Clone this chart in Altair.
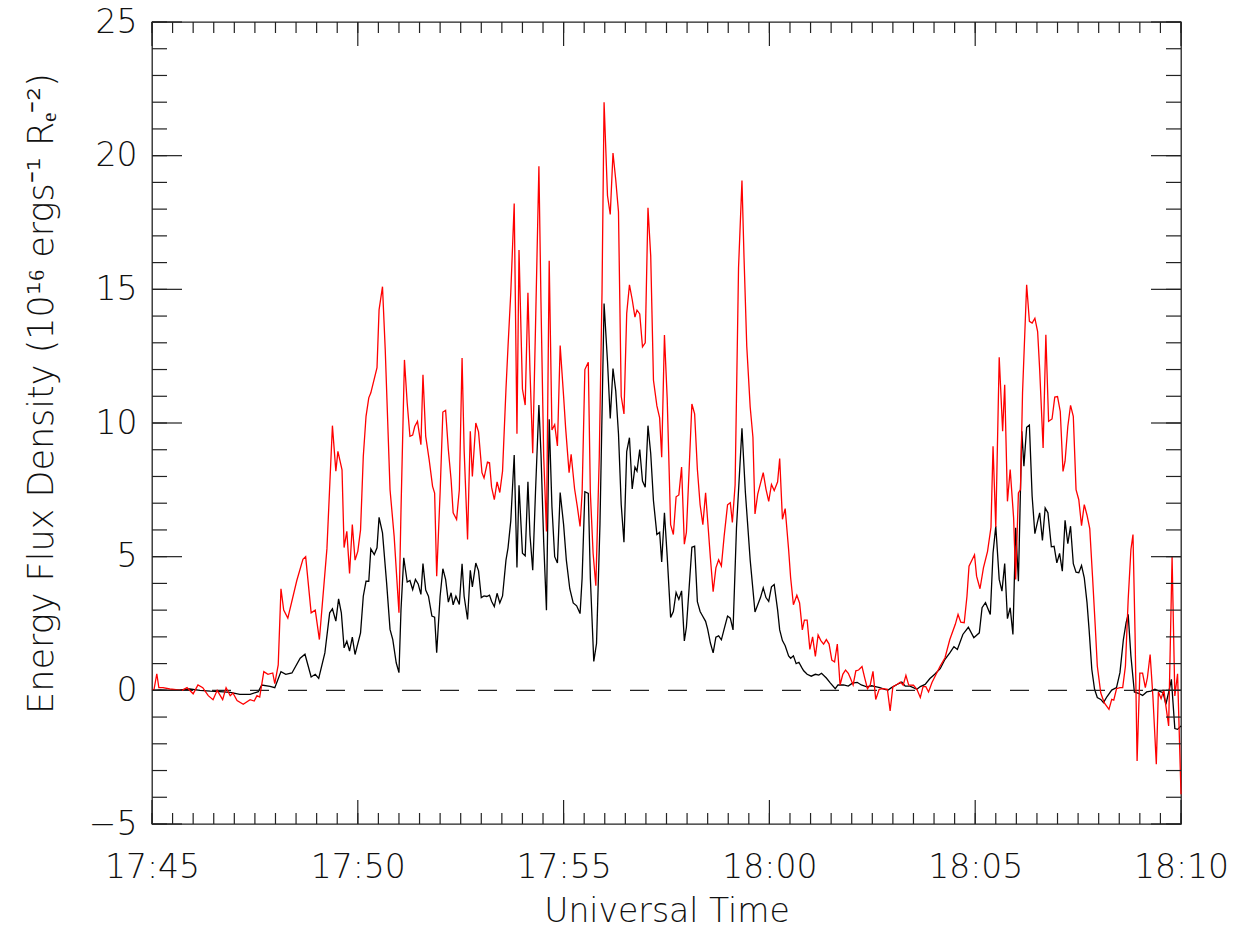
import altair as alt
import pandas as pd

# Seconds after 17:45:00 and energy flux density (10^16 ergs^-1 R_E^-2)
red_points = [(0,0.0),(3,0.04),(7,0.62),(10,0.1),(16,0.1),(26,0.05),(44,0.0),(51,0.1),(60,-0.13),(67,0.2),(74,0.1),(82,-0.2),(89,-0.35),(95,0.0),(103,-0.35),(108,0.1),(114,-0.2),(118,-0.1),(124,-0.38),(133,-0.52),(143,-0.35),(149,-0.4),(153,-0.2),(157,-0.25),(163,0.7),(169,0.6),(176,0.65),(179,0.25),(184,0.95),(188,3.8),(192,3.0),(198,2.7),(211,4.1),(220,4.9),(224,5.0),(232,2.9),(238,3.0),(244,1.9),(255,5.3),(263,9.9),(268,8.2),(271,8.94),(277,8.25),(280,5.34),(284,5.95),(288,4.37),(292,6.2),(296,4.87),(300,5.2),(304,6.0),(308,8.75),(312,10.25),(316,10.94),(319,11.13),(328,12.07),(331,14.23),(336,15.1),(340,12.74),(347,7.5),(353,5.76),(360,2.9),(363,6.76),(368,12.36),(372,10.75),(376,9.5),(380,9.55),(383,9.87),(387,10.06),(392,9.19),(395,11.8),(399,9.5),(404,8.63),(409,7.63),(412,7.38),(415,4.27),(420,7.4),(424,10.41),(428,10.47),(432,9.0),(436,7.88),(439,6.64),(444,6.39),(448,7.5),(452,12.43),(455,9.0),(460,5.64),(464,9.69),(467,8.0),(472,10.0),(476,9.67),(481,8.14),(484,7.94),(489,8.54),(492,8.51),(495,7.6),(499,7.13),(503,7.8),(507,7.4),(511,8.2),(516,11.27),(519,12.87),(523,14.87),(528,18.21),(532,9.6),(535,16.47),(540,11.27),(544,10.67),(548,14.87),(551,11.94),(555,8.87),(559,13.54),(564,19.6),(567,14.54),(571,8.74),(575,5.94),(579,16.07),(583,9.74),(587,9.94),(591,9.14),(595,12.9),(600,11.0),(603,9.8),(608,8.14),(611,8.83),(616,7.54),(620,6.87),(624,6.13),(627,7.4),(631,12.0),(636,12.27),(639,7.4),(643,5.13),(647,3.91),(652,8.74),(656,14.87),(659,22.0),(664,18.5),(668,17.8),(672,20.1),(676,19.1),(680,17.9),(684,11.0),(688,10.34),(692,14.1),(696,15.17),(700,14.62),(704,13.96),(707,14.22),(711,14.08),(715,12.85),(719,13.0),(723,18.05),(727,16.25),(731,11.6),(736,10.64),(740,10.19),(743,8.72),(747,13.29),(751,10.93),(756,6.2),(760,5.83),(764,7.24),(768,7.31),(772,8.35),(776,5.47),(779,5.91),(783,8.27),(787,10.71),(791,10.34),(795,8.27),(799,6.94),(803,6.2),(807,7.39),(810,6.35),(814,4.95),(818,3.69),(822,4.58),(826,4.88),(830,4.65),(834,5.76),(839,6.94),(843,7.02),(846,6.28),(850,7.68),(855,15.8),(860,19.07),(863,16.2),(867,12.87),(872,10.6),(876,9.47),(879,6.6),(883,7.34),(887,7.74),(891,8.14),(895,7.53),(899,7.07),(903,7.7),(907,7.47),(912,7.8),(915,8.67),(919,6.4),(923,6.8),(928,5.27),(931,4.2),(935,3.2),(940,3.56),(944,3.27),(948,2.26),(951,2.63),(955,2.63),(959,1.53),(963,2.0),(967,1.27),(971,2.07),(975,1.86),(979,1.73),(983,1.9),(987,1.73),(991,1.13),(995,1.06),(999,1.73),(1003,0.2),(1007,0.6),(1011,0.76),(1015,0.64),(1018,0.46),(1022,0.2),(1026,0.73),(1030,0.76),(1035,0.89),(1039,0.46),(1043,0.06),(1047,0.2),(1051,0.71),(1055,-0.34),(1060,0.04),(1066,0.06),(1072,0.04),(1076,-0.77),(1080,0.14),(1086,0.22),(1091,0.31),(1095,0.19),(1099,0.56),(1103,0.2),(1110,0.19),(1115,0.04),(1120,-0.27),(1124,0.14),(1128,0.14),(1132,-0.06),(1137,0.29),(1143,0.6),(1149,0.91),(1156,1.22),(1163,1.9),(1171,2.47),(1175,2.84),(1179,2.55),(1184,2.53),(1188,3.52),(1191,4.64),(1199,5.07),(1202,4.27),(1207,3.8),(1212,4.58),(1218,5.2),(1223,6.1),(1226,9.13),(1230,6.1),(1235,12.46),(1240,9.69),(1243,11.43),(1247,7.07),(1251,8.26),(1256,6.45),(1259,4.15),(1263,7.38),(1266,7.51),(1269,11.12),(1275,15.17),(1279,13.8),(1283,13.74),(1287,13.92),(1291,13.42),(1294,11.99),(1299,9.07),(1303,13.3),(1307,10.06),(1312,10.15),(1316,10.97),(1320,10.99),(1324,10.43),(1328,8.19),(1331,8.57),(1335,9.87),(1339,10.66),(1343,10.25),(1347,7.51),(1351,7.13),(1355,6.16),(1359,6.95),(1363,6.55),(1367,6.05),(1371,4.27),(1375,2.4),(1378,0.91),(1383,-0.09),(1388,-0.46),(1395,-0.71),(1399,-0.34),(1402,-0.37),(1406,0.06),(1411,0.1),(1415,0.1),(1419,0.91),(1423,3.4),(1427,5.27),(1430,5.83),(1433,2.15),(1436,-2.64),(1440,0.64),(1444,0.64),(1448,0.1),(1451,0.47),(1455,1.34),(1459,-0.21),(1464,-2.76),(1467,-0.06),(1471,-0.31),(1475,0.01),(1478,-0.59),(1482,-1.33),(1487,4.99),(1491,-0.21),(1495,0.62),(1500,-3.89)]

black_points = [(0,0.0),(12,0.02),(26,0.0),(41,0.02),(55,0.05),(70,0.0),(85,-0.03),(99,-0.05),(114,-0.08),(128,-0.15),(143,-0.15),(155,-0.05),(160,0.2),(172,0.15),(179,0.1),(188,0.7),(195,0.6),(204,0.65),(216,1.2),(223,1.35),(232,0.5),(238,0.6),(243,0.45),(252,1.4),(259,2.9),(263,3.05),(268,2.59),(272,3.42),(276,2.9),(280,1.59),(284,1.84),(288,1.47),(292,1.99),(296,1.34),(304,2.15),(308,3.52),(312,4.08),(316,4.08),(319,5.29),(324,5.08),(328,5.33),(331,6.47),(336,5.89),(342,4.02),(347,2.28),(351,1.9),(356,1.03),(360,0.66),(363,3.03),(367,4.96),(372,4.05),(376,4.11),(380,3.77),(384,4.15),(388,3.98),(392,3.59),(395,4.74),(399,3.75),(403,3.52),(408,2.78),(412,2.74),(415,1.41),(420,3.52),(424,4.55),(428,4.15),(432,3.3),(436,3.65),(439,3.2),(443,3.52),(448,3.21),(452,4.73),(455,3.52),(460,2.65),(464,4.49),(467,3.87),(472,4.76),(476,4.47),(480,3.47),(484,3.53),(488,3.51),(492,3.56),(495,3.33),(499,3.13),(503,3.63),(507,3.27),(511,3.53),(516,4.87),(519,5.33),(523,6.34),(528,8.8),(532,4.6),(535,7.67),(540,5.13),(544,5.03),(548,7.8),(551,5.8),(555,4.49),(559,7.4),(564,10.67),(567,8.87),(571,5.53),(575,3.0),(579,10.14),(583,6.87),(587,5.0),(591,4.76),(595,7.4),(600,6.2),(604,4.87),(609,3.8),(614,3.27),(619,3.16),(624,2.87),(627,4.2),(631,7.43),(636,7.37),(639,4.2),(644,1.08),(648,1.75),(653,6.2),(659,14.47),(664,12.3),(668,10.17),(672,12.04),(676,11.2),(680,9.6),(684,6.94),(688,5.54),(692,8.93),(696,9.45),(700,7.53),(704,8.35),(707,8.2),(711,9.01),(715,7.83),(719,7.6),(723,9.9),(727,8.86),(731,7.09),(736,5.83),(740,5.91),(743,4.8),(747,6.64),(751,5.02),(756,2.73),(760,2.95),(764,3.66),(768,3.4),(772,3.72),(776,1.85),(779,2.36),(783,3.84),(787,5.35),(791,5.39),(795,3.32),(799,2.95),(802,2.81),(807,2.58),(810,2.29),(814,1.77),(818,1.4),(822,1.99),(826,2.04),(830,1.89),(834,2.29),(839,2.78),(843,2.7),(847,2.26),(852,6.07),(860,9.8),(865,7.4),(872,4.87),(879,2.93),(883,3.2),(887,3.47),(891,3.83),(895,3.47),(899,3.33),(903,3.87),(907,3.96),(912,3.0),(915,2.26),(919,1.86),(923,1.67),(928,1.29),(931,1.2),(935,1.29),(939,1.0),(943,1.05),(947,0.86),(950,0.73),(955,0.6),(961,0.53),(967,0.6),(972,0.57),(976,0.64),(983,0.46),(989,0.27),(996,0.06),(1000,0.2),(1008,0.2),(1015,0.16),(1021,0.27),(1028,0.3),(1034,0.2),(1042,0.13),(1049,0.17),(1056,0.13),(1061,0.1),(1068,0.04),(1073,0.01),(1078,0.1),(1086,0.22),(1093,0.31),(1098,0.16),(1105,0.16),(1115,0.04),(1120,0.14),(1127,0.22),(1134,0.44),(1141,0.6),(1149,0.81),(1156,1.16),(1163,1.4),(1169,1.63),(1174,1.53),(1182,2.09),(1190,2.36),(1198,1.97),(1206,2.15),(1210,3.09),(1215,3.28),(1222,2.84),(1226,5.14),(1230,6.14),(1235,4.15),(1239,3.71),(1243,4.74),(1247,2.68),(1251,3.09),(1255,2.09),(1259,6.08),(1263,4.08),(1266,7.51),(1268,9.69),(1271,8.38),(1275,9.84),(1279,9.92),(1283,7.26),(1287,5.86),(1291,6.32),(1294,6.64),(1298,5.61),(1302,6.82),(1306,6.64),(1311,5.37),(1315,5.39),(1319,4.77),(1323,5.12),(1327,4.46),(1331,6.36),(1335,5.49),(1339,6.14),(1343,4.74),(1347,4.42),(1351,4.4),(1355,4.67),(1359,4.21),(1363,3.28),(1366,2.28),(1370,0.78),(1374,0.04),(1378,-0.27),(1383,-0.34),(1387,-0.46),(1392,-0.24),(1399,0.01),(1406,0.1),(1411,0.66),(1416,1.9),(1420,2.53),(1423,2.84),(1427,1.28),(1432,-0.06),(1438,-0.11),(1444,-0.19),(1450,-0.06),(1456,-0.03),(1462,0.04),(1468,-0.03),(1474,-0.09),(1478,-0.52),(1483,0.04),(1486,0.41),(1491,-1.43),(1495,-1.46),(1500,-1.33)]

x_tick_labels = ["17:45", "17:50", "17:55", "18:00", "18:05", "18:10"]
x_major_seconds = [0, 300, 600, 900, 1200, 1500]
y_major = [-5, 0, 5, 10, 15, 20, 25]

W, H = 1029, 802
FONT = "DejaVu Sans"
FW = 200

red_df = pd.DataFrame(red_points, columns=["t", "v"])
black_df = pd.DataFrame(black_points, columns=["t", "v"])

xs = alt.Scale(domain=[0, 1500], nice=False, zero=False)
ys = alt.Scale(domain=[-5, 25], nice=False, zero=False)

label_expr = "[" + ",".join("'%s'" % s for s in x_tick_labels) + "][round(datum.value/300)]"

x_axis = alt.Axis(values=x_major_seconds, labelExpr=label_expr, ticks=False, domain=False, grid=False,
                  labelFont=FONT, labelFontSize=33, labelFontWeight=FW, labelColor="#111",
                  labelBaseline="alphabetic", labelPadding=53,
                  title="Universal Time", titleFont=FONT, titleFontSize=33,
                  titleFontWeight=FW, titleColor="#111", titleBaseline="alphabetic", titleY=97,
                  labelFlush=False, labelOverlap=False)
y_axis = alt.Axis(values=y_major, ticks=False, domain=False, grid=False,
                  labelFont=FONT, labelFontSize=33, labelFontWeight=FW, labelColor="#111",
                  labelPadding=15, labelFlush=False, labelOverlap=False,
                  title="Energy Flux Density (10\u00b9\u2076 ergs\u207b\u00b9 R\u2091\u207b\u00b2)",
                  titleFont=FONT, titleFontSize=35, titleFontWeight=FW, titleColor="#111",
                  titleBaseline="alphabetic", titleX=-100, titleY=371, titleAngle=270)

X = alt.X("t:Q", scale=xs, axis=x_axis)
Y = alt.Y("v:Q", scale=ys, axis=y_axis)

black_line = alt.Chart(black_df).mark_line(color="black", strokeWidth=1.3).encode(x=X, y=Y)
red_line = alt.Chart(red_df).mark_line(color="#ff0000", strokeWidth=1.3).encode(x=X, y=Y)

zero_df = pd.DataFrame({"v": [0]})
zero_line = alt.Chart(zero_df).mark_rule(color="#222", strokeWidth=1.2, strokeDash=[19, 19]).encode(y=Y)

x_minor_df = pd.DataFrame({"t": list(range(0, 1501, 30))})
x_major_df = pd.DataFrame({"t": x_major_seconds})
y_minor_df = pd.DataFrame({"v": list(range(-5, 26))})
y_major_df = pd.DataFrame({"v": y_major})

TC = "#222"
def xticks(df, length):
    bottom = alt.Chart(df).mark_rule(color=TC, strokeWidth=1.2).encode(
        x=X, y=alt.value(H), y2=alt.value(H - length))
    top = alt.Chart(df).mark_rule(color=TC, strokeWidth=1.2).encode(
        x=X, y=alt.value(0), y2=alt.value(length))
    return [bottom, top]

def yticks(df, length):
    left = alt.Chart(df).mark_rule(color=TC, strokeWidth=1.2).encode(
        y=Y, x=alt.value(0), x2=alt.value(length))
    right = alt.Chart(df).mark_rule(color=TC, strokeWidth=1.2).encode(
        y=Y, x=alt.value(W - length), x2=alt.value(W))
    return [left, right]

chart = alt.layer(
    black_line, zero_line, red_line,
    *xticks(x_minor_df, 11), *xticks(x_major_df, 24),
    *yticks(y_minor_df, 15), *yticks(y_major_df, 30),
).properties(
    width=W, height=H,
    autosize=alt.AutoSizeParams(type="none"),
    padding={"left": 144, "top": 14, "right": 60, "bottom": 110},
    background="white",
).configure_view(stroke="#222", strokeWidth=1.3)

chart.save("out.html", embed_options={"renderer": "svg", "actions": False})
